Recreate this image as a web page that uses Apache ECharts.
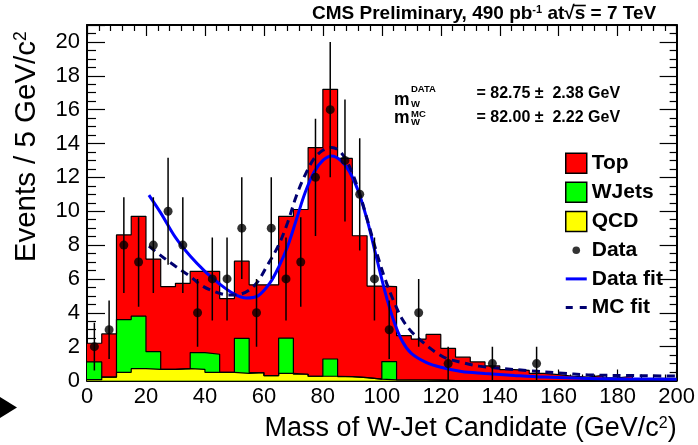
<!DOCTYPE html>
<html><head><meta charset="utf-8">
<script src="https://cdn.jsdelivr.net/npm/echarts@6/dist/echarts.min.js"></script>
<style>html,body{margin:0;padding:0;background:#fff}#c{width:698px;height:445px}</style>
</head><body><div id="c"></div>
<script>
// ---- data ----
const binLow = [0,5,10,15,20,25,30,35,40,45,50,55,60,65,70,75,80,85,90,95,100,105,110,115,120,125,130,135,140,145,150,155,160,165,170,175,180,185,190,195];
const binWidth = 5;
const qcd   = [0.05,0.2,0.48,0.7,0.66,0.66,0.7,0.66,0.48,0.48,0.42,0.46,0.29,0.42,0.37,0.25,0.25,0.23,0.17,0.08,0.04,0.03,0.03,0.02,0,0,0,0,0,0,0,0,0,0,0,0,0,0,0,0];
const wjets = [1.05,0,3.12,3.1,1.04,0,0,0.99,1.07,0,2.07,0,0,2.08,0,0,1.02,0,0,0,1.08,0,0,0,0,0,0,0,0,0,0,0,0,0,0,0,0,0,0,0];
const topQuark = [1.1,2.55,5.0,5.9,5.47,4.88,5.04,4.8,4.9,4.36,4.56,5.19,5.36,7.2,9.73,13.51,15.93,12.89,8.38,5.5,4.43,2.62,2.42,2.7,1.9,1.38,1.1,0.86,0.64,0.6,0.42,0.35,0.25,0.2,0.3,0.15,0.25,0.1,0.12,0.1];
const dataCounts = [2,3,8,7,8,10,8,4,6,6,9,4,9,6,7,12,16,13,11,6,3,0,4,0,1,0,0,1,0,0,1,0,0,0,0,0,0,0,0,0];
const dataFitX = [21,25,30,35,40,45,50,54,58,62,65,68,71,74,77,80,83,86,89,92,95,98,101,104,107,110,115,120,127,135,145,155,170,185,200];
const dataFitY = [10.95,9.9,8.45,7.35,6.45,5.7,5.1,4.87,5.0,5.75,6.7,7.9,9.5,11.1,12.3,13.0,13.26,13.0,12.35,11.2,9.5,7.4,5.3,3.55,2.3,1.6,1.07,0.78,0.53,0.42,0.3,0.2,0.12,0.09,0.07];
const mcFitX = [21,26,30,35,39,43,48,52,57,61,65,68,71,74,77,80,83,86,89,92,95,98,101,104,107,110,114,118,122,127,133,140,150,160,170,185,200];
const mcFitY = [7.94,7.25,6.75,6.15,5.6,5.27,5.05,5.1,5.65,6.75,8.0,9.3,10.9,12.15,13.1,13.6,13.77,13.5,12.65,11.3,9.55,7.7,6.05,4.7,3.6,2.9,2.25,1.7,1.3,1.07,0.85,0.72,0.58,0.45,0.33,0.29,0.26];
const xTicks = [0,20,40,60,80,100,120,140,160,180,200];
const yTicks = [0,2,4,6,8,10,12,14,16,18,20];

// ---- build ----
const FONT = 'Liberation Sans';
function stepData(vals){
  const d = binLow.map((x,i)=>[x, vals[i]]);
  d.push([binLow[binLow.length-1]+binWidth, vals[vals.length-1]]);
  return d;
}
const lvlQ = qcd.slice();
const lvlW = qcd.map((v,i)=>v+wjets[i]);
const lvlT = lvlW.map((v,i)=>v+topQuark[i]);
const dataPts = [];
binLow.forEach((x,i)=>{ if (dataCounts[i]>0) dataPts.push([x+binWidth/2, dataCounts[i]]); });
const pair = (xs,ys)=>xs.map((x,i)=>[x,ys[i]]);

function histSeries(name, lvl, color){
  return {type:'line', name, step:'end', data: stepData(lvl), symbol:'none', silent:true, z:2,
    itemStyle:{color}, lineStyle:{color:'#000', width:1.2}, areaStyle:{color, opacity:1}};
}
const tickStyle = {color:'#000', width:1.2};
function xAx(pos, labels){
  return {type:'value', min:0, max:200, interval:20, position:pos,
    axisLine:{show:true, onZero:false, lineStyle:{color:'#000', width:2}},
    axisTick:{show:true, inside:true, length:11, lineStyle:tickStyle},
    minorTick:{show:true, splitNumber:5, length:6, lineStyle:tickStyle},
    splitLine:{show:false}, minorSplitLine:{show:false},
    axisLabel:{show:labels, color:'#000', fontSize:22, fontFamily:FONT, margin:5,
      formatter:v=> xTicks.includes(v)? String(v):''}};
}
function yAx(pos, labels){
  return {type:'value', min:0, max:21, interval:2, position:pos,
    axisLine:{show:true, onZero:false, lineStyle:{color:'#000', width:2}},
    axisTick:{show:true, inside:true, length:pos==='left'?18:17, lineStyle:tickStyle},
    minorTick:{show:true, splitNumber:4, length:pos==='left'?9:7, lineStyle:tickStyle},
    splitLine:{show:false}, minorSplitLine:{show:false},
    axisLabel:{show:labels, color:'#000', fontSize:22, fontFamily:FONT, margin:7,
      formatter:v=> yTicks.includes(v)? String(v):''}};
}
const xa0 = xAx('bottom', true);
Object.assign(xa0, {name:'Mass of W-Jet Candidate (GeV/c{s|2})', nameLocation:'end', nameGap:0,
  nameTextStyle:{fontSize:27, fontFamily:FONT, color:'#000', align:'right', verticalAlign:'top', padding:[35,0,0,0],
    rich:{s:{fontSize:16, fontFamily:FONT, color:'#000', verticalAlign:'top', padding:[0,0,10,0]}}}});
const ya0 = yAx('left', true);
Object.assign(ya0, {name:'Events / 5 GeV/c{s|2}', nameLocation:'middle', nameRotate:90, nameGap:45,
  nameTextStyle:{fontSize:29.5, fontFamily:FONT, color:'#000', padding:[0,0,0,112],
    rich:{s:{fontSize:17.5, fontFamily:FONT, color:'#000', verticalAlign:'top', padding:[0,0,11,0]}}}});

const boldTxt = (txt, x, y, size, extra) => ({type:'text', x, y, silent:true, z:10,
  style:Object.assign({text:txt, fill:'#000', fontFamily:FONT, fontWeight:'bold', fontSize:size,
    align:'left', verticalAlign:'middle', textAlign:'left', textVerticalAlign:'middle'}, extra||{})});

// title pieces and overline position for the square root
const TITLE_LEFT = 312, TITLE_FS = 19, TITLE_SUP = 11;
const mctx = document.createElement('canvas').getContext('2d');
function tw(s, fs){ mctx.font = 'bold ' + fs + 'px "' + FONT + '"'; return mctx.measureText(s).width; }
const t1 = 'CMS Preliminary, 490 pb', t2 = '-1', t3 = ' at\u221a', t4 = 's', t5 = ' = 7 TeV';
const sStart = TITLE_LEFT + tw(t1,TITLE_FS) + tw(t2,TITLE_SUP) + tw(t3,TITLE_FS);
const sEnd = sStart + tw(t4,TITLE_FS);

const option = {
  animation:false,
  backgroundColor:'#fff',
  title:{text:'{b|'+t1+'}{s|'+t2+'}{b|'+t3+t4+t5+'}', left:TITLE_LEFT, top:4, padding:0,
    textStyle:{rich:{
      b:{fontSize:TITLE_FS, fontWeight:'bold', fontFamily:FONT, color:'#000'},
      s:{fontSize:TITLE_SUP, fontWeight:'bold', fontFamily:FONT, color:'#000', verticalAlign:'top', padding:[0,0,4,0]}}}},
  grid:{left:87, right:14, top:25, bottom:64.5, show:false},
  xAxis:[xa0, xAx('top', false)],
  yAxis:[ya0, yAx('right', false)],
  legend:{orient:'vertical', left:565, top:152.5, itemWidth:21, itemHeight:20, itemGap:7.6,
    selectedMode:false, padding:0,
    textStyle:{fontSize:21, fontWeight:'bold', fontFamily:FONT, color:'#000', lineHeight:21},
    data:[
      {name:'Top', icon:'rect', itemStyle:{color:'#ff0000', borderColor:'#000', borderWidth:1.5}},
      {name:'WJets', icon:'rect', itemStyle:{color:'#00ff00', borderColor:'#000', borderWidth:1.5}},
      {name:'QCD', icon:'rect', itemStyle:{color:'#ffff00', borderColor:'#000', borderWidth:1.5}},
      {name:'Data', icon:'path://M0,0M21,20M14.3,10A3.8,3.8,0,1,1,6.7,10A3.8,3.8,0,1,1,14.3,10Z', itemStyle:{color:'#000', borderWidth:0}},
      {name:'Data fit', icon:'path://M0,0M21,20M0,8.5L21,8.5L21,11.5L0,11.5Z', itemStyle:{color:'#0000ff', borderWidth:0}},
      {name:'MC fit', icon:'path://M0,0M21,20M0,8.5L7,8.5L7,11.5L0,11.5ZM14,8.5L21,8.5L21,11.5L14,11.5Z', itemStyle:{color:'#000070', borderWidth:0}}
    ]},
  series:[
    histSeries('Top', lvlT, '#ff0000'),
    histSeries('WJets', lvlW, '#00ff00'),
    histSeries('QCD', lvlQ, '#ffff00'),
    {type:'line', name:'Data fit', data:pair(dataFitX,dataFitY), symbol:'none', smooth:0.35, z:4, silent:true,
      itemStyle:{color:'#0000ff'}, lineStyle:{color:'#0000ff', width:3}},
    {type:'line', name:'MC fit', data:pair(mcFitX,mcFitY), symbol:'none', smooth:0.35, z:4, silent:true,
      itemStyle:{color:'#000070'}, lineStyle:{color:'#000070', width:3, type:[8,5.5]}},
    {type:'custom', name:'DataErr', data:dataPts, encode:{x:0,y:1}, z:5, silent:true, clip:true,
      renderItem:(params, api)=>{
        const x = api.value(0), y = api.value(1), e = Math.sqrt(y);
        const p1 = api.coord([x, y-e]), p2 = api.coord([x, y+e]);
        return {type:'line', shape:{x1:p1[0], y1:p1[1], x2:p2[0], y2:p2[1]}, style:{stroke:'#000', lineWidth:1.5}};
      }},
    {type:'scatter', name:'Data', data:dataPts, symbol:'circle', symbolSize:9, z:6, silent:true,
      itemStyle:{color:'#000'}}
  ],
  graphic:[
    boldTxt('m', 394, 100, 17.5),
    boldTxt('DATA', 411, 89.7, 9.5),
    boldTxt('W', 411, 104.3, 9.5),
    boldTxt('m', 394, 118, 17.5),
    boldTxt('MC', 411, 114.7, 9.5),
    boldTxt('W', 411, 122.3, 9.5),
    boldTxt('= 82.75 \u00b1  2.38 GeV', 476.5, 93.7, 16),
    boldTxt('= 82.00 \u00b1  2.22 GeV', 476.5, 117.8, 16),
    {type:'line', silent:true, z:10, shape:{x1:sStart-1, y1:5.5, x2:sEnd+0.5, y2:5.5}, style:{stroke:'#000', lineWidth:1.6}},
    {type:'polygon', silent:true, shape:{points:[[0,397],[17,407.5],[0,418]]}, style:{fill:'#000'}}
  ]
};
const chart = echarts.init(document.getElementById('c'), null, {renderer:'canvas'});
chart.setOption(option);
</script>
</body></html>
